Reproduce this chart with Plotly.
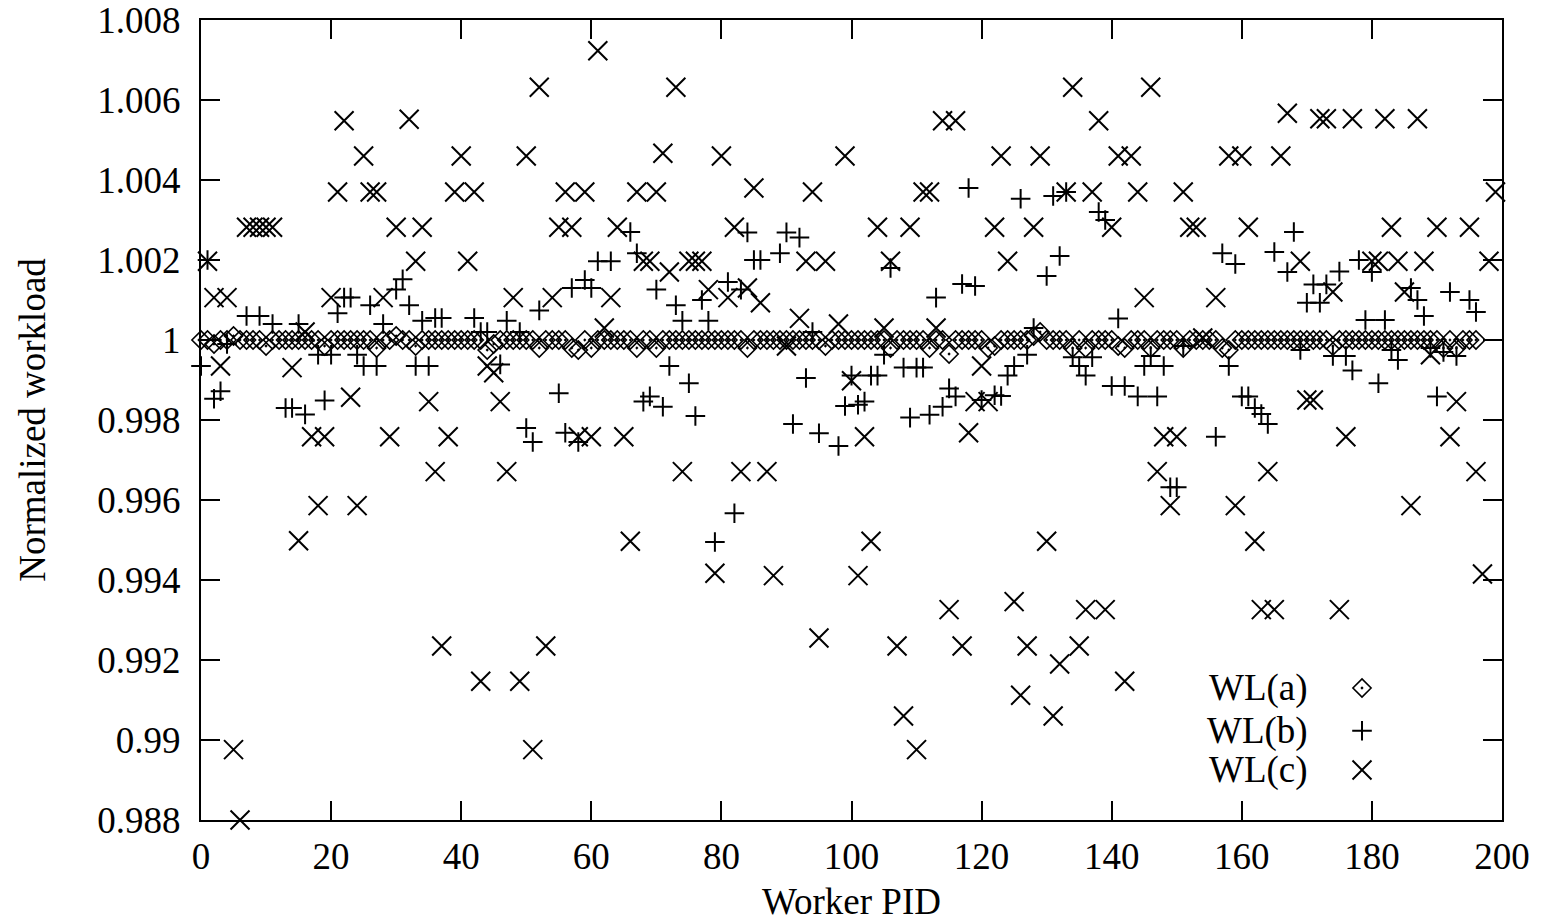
import plotly.graph_objects as go

# ---------------- data ----------------
pid_a = list(range(0, 197))
wl_a = [
    1.0, 1.0, 0.9999, 1.0, 1.0, 1.0001, 1.0, 1.0, 1.0, 1.0,
    0.99985, 1.0, 1.0, 1.0, 1.0, 1.0, 1.0, 1.0, 1.0, 0.99985,
    1.0, 1.0, 1.0, 1.0, 1.0, 1.0, 1.0, 0.9998, 1.0, 1.0,
    1.0001, 1.0, 1.0, 0.99985, 1.0, 1.0, 1.0, 1.0, 1.0, 1.0,
    1.0, 1.0, 1.0, 1.0, 0.99975, 0.9999, 1.0, 1.0, 1.0, 1.0,
    1.0, 1.0, 0.9998, 1.0, 1.0, 1.0, 1.0, 0.9998, 0.99975, 1.0,
    0.9998, 1.0, 1.0, 1.0, 1.0, 1.0, 1.0, 0.9998, 1.0, 1.0,
    0.9998, 1.0, 1.0, 1.0, 1.0, 1.0, 1.0, 1.0, 1.0, 1.0,
    1.0, 1.0, 1.0, 1.0, 0.9998, 1.0, 1.0, 1.0, 1.0, 1.0,
    1.0, 1.0, 1.0, 1.0, 1.0, 1.0, 0.99985, 1.0, 1.0, 1.0,
    1.0, 1.0, 1.0, 1.0, 1.0, 1.0, 0.9998, 1.0, 1.0, 1.0,
    1.0, 1.0, 0.9998, 1.0, 1.0, 0.99965, 1.0, 1.0, 1.0, 1.0,
    1.0, 0.9998, 0.99985, 1.0, 1.0, 1.0, 1.0, 1.0, 1.0001, 1.0002,
    1.0, 1.0, 1.0, 1.0, 0.9998, 1.0, 0.9998, 1.0, 1.0, 1.0,
    1.0, 0.99985, 0.9998, 1.0, 1.0, 1.0, 0.9998, 1.0, 1.0, 1.0,
    1.0, 0.9998, 1.0, 1.0, 1.0, 1.0, 1.0, 0.9998, 0.99975, 1.0,
    1.0, 1.0, 1.0, 1.0, 1.0, 1.0, 1.0, 1.0, 1.0, 1.0,
    1.0, 1.0, 1.0, 1.0, 0.99985, 1.0, 1.0, 1.0, 1.0, 1.0,
    1.0, 1.0, 1.0, 1.0, 1.0, 1.0, 1.0, 1.0, 1.0, 1.0,
    1.0, 0.9998, 1.0, 0.9998, 1.0, 1.0, 1.0,
]

pid_b = [
    0, 1, 2, 3, 4, 7, 9, 11, 13, 14, 15, 16, 18, 19, 20, 21, 22, 23, 24, 25,
    26, 27, 28, 30, 31, 32, 33, 34, 35, 36, 37, 42, 43, 44, 46, 47, 49, 50, 51, 52,
    55, 56, 57, 58, 59, 60, 61, 63, 66, 67, 68, 69, 70, 71, 72, 73, 74, 75, 76, 77,
    78, 79, 81, 82, 83, 84, 85, 86, 89, 90, 91, 92, 93, 94, 95, 98, 99, 100, 101, 102,
    103, 104, 105, 106, 108, 109, 110, 111, 112, 113, 114, 115, 116, 117, 118, 119, 120, 122, 123, 124,
    125, 126, 127, 128, 130, 131, 132, 133, 134, 135, 136, 137, 138, 139, 140, 141, 142, 144, 145, 146,
    147, 148, 149, 150, 151, 156, 157, 158, 159, 160, 161, 162, 163, 164, 165, 167, 168, 169, 170, 171,
    172, 173, 174, 175, 176, 177, 178, 179, 180, 181, 182, 183, 184, 186, 187, 188, 189, 190, 191, 192,
    193, 195, 196,
]
wl_b = [
    0.99935, 1.002, 0.99853, 0.99872, 0.9999, 1.0006, 1.0006, 1.0004, 0.9983, 0.9983,
    1.0004, 0.99814, 0.99963, 0.99849, 0.99963, 1.00067, 1.00106, 1.00106, 0.99963, 0.99935,
    1.00087, 0.99935, 1.0004, 1.00126, 1.00152, 1.00087, 0.99935, 1.00048, 0.99935, 1.00055,
    1.00055, 1.00055, 1.0002, 1.0002, 0.99939, 1.00048, 1.0002, 0.9978, 0.99745, 1.00074,
    0.99867, 0.99768, 1.0013, 0.99745, 1.0015, 1.0013, 1.00197, 1.00197, 1.0027, 1.00217,
    0.99846, 0.99859, 1.00126, 0.99833, 0.99935, 1.00087, 1.00048, 0.99892, 0.9981, 1.001,
    1.00048, 0.99495, 1.00145, 0.99567, 1.00126, 1.00269, 1.002, 1.002, 1.00217, 1.00269,
    0.9979, 1.00256, 0.99905, 1.0002, 0.99767, 0.99735, 0.99835, 0.99911, 0.99838, 0.99846,
    0.99911, 0.99911, 0.99963, 1.0018, 0.99931, 0.99806, 0.99931, 0.99931, 0.99813, 1.00106,
    0.99833, 0.99879, 0.99859, 1.0014, 1.0038, 1.00135, 0.9985, 0.99862, 0.9986, 0.99911,
    0.99935, 1.00353, 0.99963, 1.0003, 1.0016, 1.0036, 1.0021, 1.0037, 0.99957, 0.99935,
    0.99911, 0.99957, 1.0032, 1.003, 0.99885, 1.00054, 0.99885, 0.99859, 0.99935, 0.9996,
    0.99859, 0.99935, 0.99632, 0.99632, 0.99985, 0.99758, 1.00217, 0.99935, 1.0019, 0.99859,
    0.99859, 0.9983, 0.99815, 0.9979, 1.0022, 1.0017, 1.0027, 0.99975, 1.00093, 1.00139,
    1.00093, 1.00139, 0.9996, 1.00171, 0.9996, 0.99924, 1.002, 1.0005, 1.0017, 0.99892,
    1.0005, 0.99975, 0.9995, 1.0013, 1.001, 1.0006, 0.9998, 0.99859, 0.9997, 1.0012,
    0.9996, 1.001, 1.0007,
]

pid_c = [
    1, 2, 3, 4, 5, 6, 7, 8, 9, 10, 11, 14, 15, 16, 17, 18, 19, 20, 21, 22,
    23, 24, 25, 26, 27, 28, 29, 30, 32, 33, 34, 35, 36, 37, 38, 39, 40, 41, 42, 43,
    44, 45, 46, 47, 48, 49, 50, 51, 52, 53, 54, 55, 56, 57, 58, 59, 60, 61, 62, 63,
    64, 65, 66, 67, 68, 69, 70, 71, 72, 73, 74, 75, 76, 77, 78, 79, 80, 81, 82, 83,
    84, 85, 86, 87, 88, 90, 92, 93, 94, 95, 96, 98, 99, 100, 101, 102, 103, 104, 105, 106,
    107, 108, 109, 110, 111, 112, 113, 114, 115, 116, 117, 118, 119, 120, 121, 122, 123, 124, 125, 126,
    127, 128, 129, 130, 131, 132, 133, 134, 135, 136, 137, 138, 139, 140, 141, 142, 143, 144, 145, 146,
    147, 148, 149, 150, 151, 152, 153, 154, 156, 158, 159, 160, 161, 162, 163, 164, 165, 166, 167, 169,
    170, 171, 172, 173, 174, 175, 176, 177, 180, 181, 182, 183, 184, 185, 186, 187, 188, 189, 190, 192,
    193, 195, 196, 197, 198, 199,
]
wl_c = [
    1.00197, 1.00106, 0.99935, 1.00106, 0.98976, 0.988, 1.00282, 1.00282, 1.00282, 1.00282,
    1.00282, 0.99931, 0.99498, 1.0002, 0.99758, 0.99586, 0.99758, 1.00106, 1.0037, 1.00548,
    0.99857, 0.99586, 1.0046, 1.0037, 1.0037, 1.00106, 0.99758, 1.00282, 1.00552, 1.00197,
    1.00282, 0.99846, 0.99671, 0.99235, 0.99758, 1.0037, 1.0046, 1.00197, 1.0037, 0.99147,
    0.99935, 0.99918, 0.99846, 0.99671, 1.00106, 0.99147, 1.0046, 0.98976, 1.00632, 0.99235,
    1.00106, 1.00282, 1.0037, 1.00282, 0.99758, 1.0037, 0.99758, 1.00723, 1.0003, 1.00106,
    1.00282, 0.99758, 0.99497, 1.0037, 1.00197, 1.00197, 1.0037, 1.00467, 1.0017, 1.00632,
    0.99671, 1.00197, 1.00197, 1.00197, 1.00126, 0.99417, 1.0046, 1.00106, 1.00282, 0.99671,
    1.0013, 1.0038, 1.00093, 0.99671, 0.99411, 0.99985, 1.00054, 1.00197, 1.0037, 0.99255,
    1.00197, 1.0004, 1.0046, 0.99898, 0.99411, 0.99758, 0.99497, 1.00282, 1.0003, 1.00197,
    0.99235, 0.9906, 1.00282, 0.98976, 1.0037, 1.0037, 1.0003, 1.00548, 0.99326, 1.00548,
    0.99235, 0.99768, 0.99846, 0.99935, 0.99846, 1.00282, 1.0046, 1.00197, 0.99346, 0.99112,
    0.99235, 1.00282, 1.0046, 0.99497, 0.9906, 0.9919, 1.0037, 1.00632, 0.99235, 0.99326,
    1.0037, 1.00548, 0.99326, 1.00282, 1.0046, 0.99147, 1.0046, 1.0037, 1.00106, 1.00632,
    0.99671, 0.99758, 0.99586, 0.99758, 1.0037, 1.00282, 1.00282, 1.00005, 1.00106, 1.0046,
    0.99586, 1.0046, 1.00282, 0.99497, 0.99326, 0.99671, 0.99326, 1.0046, 1.00567, 1.00197,
    0.9985, 0.9985, 1.00553, 1.00553, 1.0012, 0.99326, 0.99758, 1.00553, 1.00197, 1.00197,
    1.00553, 1.00282, 1.00197, 1.0012, 0.99586, 1.00553, 1.00197, 0.99963, 1.00282, 0.99758,
    0.99846, 1.00282, 0.99671, 0.99415, 1.00197, 1.0037,
]

series_names = ["WL(a)", "WL(b)", "WL(c)"]
x_ticks = [0, 20, 40, 60, 80, 100, 120, 140, 160, 180, 200]
y_ticks = [0.988, 0.990, 0.992, 0.994, 0.996, 0.998, 1.000, 1.002, 1.004, 1.006, 1.008]
y_tick_labels = ["0.988", "0.99", "0.992", "0.994", "0.996", "0.998", "1",
                 "1.002", "1.004", "1.006", "1.008"]

# ---------------- styling ----------------
FONT = "Liberation Serif, Times New Roman, serif"
FS = 37
W, H = 1543, 923
ML, MR, MT, MB = 201, 41, 20, 103

sym_a = dict(symbol="diamond-open-dot", size=14, color="black",
             line=dict(color="black", width=1.6))
sym_b = dict(symbol="cross-thin-open", size=14, color="black",
             line=dict(color="black", width=2))
sym_c = dict(symbol="x-thin-open", size=19, color="black",
             line=dict(color="black", width=2))
symbols = [sym_a, sym_b, sym_c]

fig = go.Figure()
fig.add_trace(go.Scatter(x=pid_a, y=wl_a, mode="markers", name=series_names[0],
                         marker=sym_a, cliponaxis=False, showlegend=False))
fig.add_trace(go.Scatter(x=pid_b, y=wl_b, mode="markers", name=series_names[1],
                         marker=sym_b, cliponaxis=False, showlegend=False))
fig.add_trace(go.Scatter(x=pid_c, y=wl_c, mode="markers", name=series_names[2],
                         marker=sym_c, cliponaxis=False, showlegend=False))

# gnuplot-style key: text right-aligned, sample to the right
key_text_x = 0.8524
key_sym_x = 0.8924
key_rows_y = [0.165, 0.1115, 0.0625]
for i, nm in enumerate(series_names):
    fig.add_annotation(x=key_text_x, y=key_rows_y[i], xref="paper", yref="paper",
                       text=nm, showarrow=False, xanchor="right", yanchor="middle",
                       font=dict(family=FONT, size=FS, color="black"))
    fig.add_trace(go.Scatter(x=[key_sym_x], y=[key_rows_y[i]], mode="markers",
                             xaxis="x2", yaxis="y2", marker=symbols[i],
                             showlegend=False, hoverinfo="skip", cliponaxis=False))

axis_common = dict(showgrid=False, zeroline=False, showline=True, linecolor="black",
                   linewidth=2, mirror="allticks", ticks="inside", ticklen=19,
                   tickwidth=1.5, tickcolor="black", automargin=False,
                   ticklabeloverflow="allow",
                   tickfont=dict(family=FONT, size=FS, color="black"))

fig.update_layout(
    width=W, height=H,
    margin=dict(l=ML, r=MR, t=MT, b=MB, pad=0),
    paper_bgcolor="white", plot_bgcolor="white",
    font=dict(family=FONT, size=FS, color="black"),
    xaxis=dict(range=[0, 200], tickvals=x_ticks, ticktext=[str(v) for v in x_ticks],
               ticklabelstandoff=3,
               title=dict(text="Worker PID", font=dict(family=FONT, size=FS), standoff=12),
               **axis_common),
    yaxis=dict(range=[0.988 - 1e-9, 1.008 + 1e-9], tickvals=y_ticks, ticktext=y_tick_labels,
               ticklabelstandoff=11,
               title=dict(text="Normalized workload", font=dict(family=FONT, size=FS),
                          standoff=40),
               **axis_common),
    xaxis2=dict(domain=[0, 1], range=[0, 1], overlaying="x", visible=False,
                anchor="y2"),
    yaxis2=dict(domain=[0, 1], range=[0, 1], overlaying="y", visible=False,
                anchor="x2"),
    showlegend=False,
)

fig.write_html("out.html", config={"displayModeBar": False},
               post_script="document.body.style.margin='0';document.body.style.overflow='hidden';")
